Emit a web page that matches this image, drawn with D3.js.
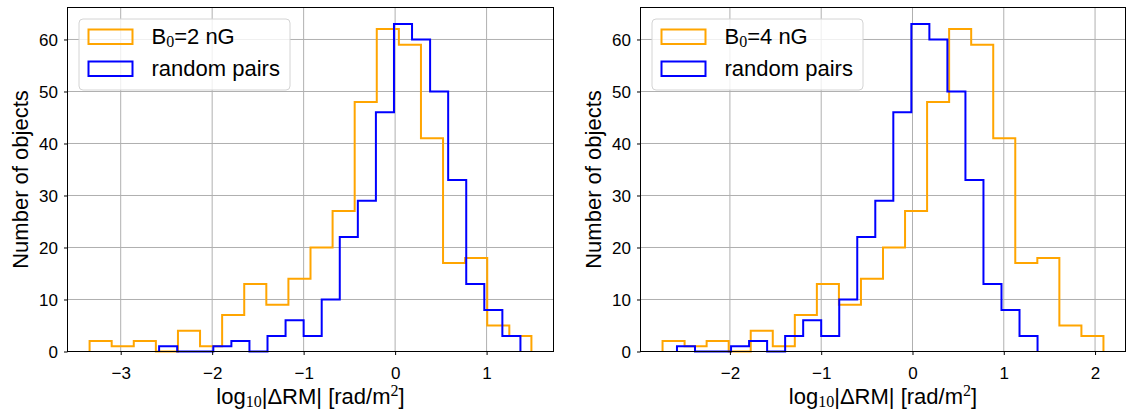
<!DOCTYPE html>
<html>
<head>
<meta charset="utf-8">
<script src="https://cdn.jsdelivr.net/npm/d3@7"></script>
<style>
  html, body { margin: 0; padding: 0; background: #fff; }
  svg { display: block; }
  text { font-family: "Liberation Sans", Arial, Helvetica, sans-serif; fill: #000; }
</style>
</head>
<body>
<svg id="chart" width="1126" height="410"></svg>
<script>
// ---------------- data ----------------
const yTicks = [0, 10, 20, 30, 40, 50, 60];
const xTicksLeft = [-3, -2, -1, 0, 1];
const xTicksRight = [-2, -1, 0, 1, 2];

// histogram counts (20 equal-width bins each)
const orangeCounts = [2, 1, 2, 0, 4, 1, 7, 13, 9, 14, 20, 27, 48, 62, 59, 41, 17, 18, 5, 3];
const blueCounts   = [1, 0, 0, 1, 2, 0, 3, 6, 3, 10, 22, 29, 46, 63, 60, 50, 33, 13, 8, 3];

// bin ranges (log10 |ΔRM|)
const orangeRangeLeft  = [-3.34, 1.49];   // B0 = 2 nG
const orangeRangeRight = [-2.738, 2.092]; // B0 = 4 nG
const blueRange        = [-2.58, 1.37];   // random pairs

const legendLabelsLeft  = { b: "B", sub: "0", rest: "=2 nG" };
const legendLabelsRight = { b: "B", sub: "0", rest: "=4 nG" };
const randomLabel = "random pairs";

const colOrange = "#FFA500";
const colBlue = "#0000FF";

// ---------------- drawing ----------------
const svg = d3.select("#chart");
const yTop = 7.5, yBottom = 351.5;

function edges(range, n) {
  const w = (range[1] - range[0]) / n;
  return d3.range(n + 1).map(i => range[0] + i * w);
}

function drawPanel(cfg) {
  const g = svg.append("g");
  const allLo = Math.min(cfg.orangeRange[0], blueRange[0]);
  const allHi = Math.max(cfg.orangeRange[1], blueRange[1]);
  const m = 0.05 * (allHi - allLo);
  const x = d3.scaleLinear().domain([allLo - m, allHi + m]).range([cfg.left, cfg.right]);
  const ymax = d3.max(orangeCounts.concat(blueCounts)) * 1.05;
  const y = d3.scaleLinear().domain([0, ymax]).range([yBottom, yTop]);

  // grid
  g.append("g").selectAll("line").data(cfg.xTicks).join("line")
    .attr("x1", d => x(d)).attr("x2", d => x(d))
    .attr("y1", yTop).attr("y2", yBottom)
    .attr("stroke", "#b0b0b0").attr("stroke-width", 1);
  g.append("g").selectAll("line").data(yTicks).join("line")
    .attr("x1", cfg.left).attr("x2", cfg.right)
    .attr("y1", d => y(d)).attr("y2", d => y(d))
    .attr("stroke", "#b0b0b0").attr("stroke-width", 1);

  // step histograms
  const line = d3.line().x(d => x(d[0])).y(d => y(d[1]));
  function stepPts(range, counts) {
    const e = edges(range, counts.length);
    const pts = [[e[0], 0]];
    counts.forEach((c, i) => { pts.push([e[i], c]); pts.push([e[i + 1], c]); });
    pts.push([e[e.length - 1], 0]);
    return pts;
  }
  g.append("path").attr("d", line(stepPts(cfg.orangeRange, orangeCounts)))
    .attr("fill", "none").attr("stroke", colOrange).attr("stroke-width", 2)
    .attr("stroke-linejoin", "miter");
  g.append("path").attr("d", line(stepPts(blueRange, blueCounts)))
    .attr("fill", "none").attr("stroke", colBlue).attr("stroke-width", 2)
    .attr("stroke-linejoin", "miter");

  // axes
  const xAxis = d3.axisBottom(x).tickValues(cfg.xTicks).tickSize(3.5).tickSizeOuter(0)
    .tickFormat(d3.format("d"));
  const gx = g.append("g").attr("transform", `translate(0,${yBottom})`).call(xAxis);
  gx.select(".domain").remove();
  gx.selectAll(".tick line").attr("stroke", "#000").attr("stroke-width", 1);
  gx.selectAll(".tick text").attr("y", 27.5).attr("dy", 0)
    .style("font-size", "17px").style("font-family", "'Liberation Sans', Arial, sans-serif");

  const yAxis = d3.axisLeft(y).tickValues(yTicks).tickSize(3.5).tickSizeOuter(0);
  const gy = g.append("g").attr("transform", `translate(${cfg.left},0)`).call(yAxis);
  gy.select(".domain").remove();
  gy.selectAll(".tick line").attr("stroke", "#000").attr("stroke-width", 1);
  gy.selectAll(".tick text").attr("x", -9.5).attr("dy", "0.35em")
    .style("font-size", "17px").style("font-family", "'Liberation Sans', Arial, sans-serif");

  // spines
  g.append("rect").attr("x", cfg.left).attr("y", yTop)
    .attr("width", cfg.right - cfg.left).attr("height", yBottom - yTop)
    .attr("fill", "none").attr("stroke", "#000").attr("stroke-width", 1);

  // y label
  g.append("text")
    .attr("transform", `translate(${cfg.left - 40},${(yTop + yBottom) / 2}) rotate(-90)`)
    .attr("text-anchor", "middle").style("font-size", "22px")
    .text("Number of objects");

  // x label
  const xl = g.append("text")
    .attr("x", (cfg.left + cfg.right) / 2).attr("y", 404)
    .attr("text-anchor", "middle").style("font-size", "22px");
  xl.append("tspan").text("log");
  xl.append("tspan").attr("dy", 3).style("font-family", "'Liberation Serif', 'DejaVu Serif', serif")
    .style("font-size", "16px").text("10");
  xl.append("tspan").attr("dy", -3).text("|ΔRM| [rad/m");
  xl.append("tspan").attr("dy", -8).style("font-family", "'Liberation Serif', 'DejaVu Serif', serif")
    .style("font-size", "16px").text("2");
  xl.append("tspan").attr("dy", 8).text("]");

  // legend
  const lx = cfg.left + 11.5, ly = 19;
  const lg = g.append("g");
  lg.append("rect").attr("x", lx).attr("y", ly).attr("width", 211).attr("height", 71)
    .attr("rx", 4).attr("ry", 4)
    .attr("fill", "#fff").attr("fill-opacity", 0.8)
    .attr("stroke", "#d4d4d4").attr("stroke-width", 1);
  const items = [
    { color: colOrange, label: cfg.legend, yy: ly + 10.5 },
    { color: colBlue, label: null, yy: ly + 42.5 }
  ];
  items.forEach(it => {
    lg.append("rect").attr("x", lx + 9.5).attr("y", it.yy).attr("width", 44).attr("height", 14.5)
      .attr("fill", "none").attr("stroke", it.color).attr("stroke-width", 2);
    const t = lg.append("text").attr("x", lx + 72.5).attr("y", it.yy + 14.5)
      .style("font-size", "22px");
    if (it.label) {
      t.append("tspan").text(it.label.b);
      t.append("tspan").attr("dy", 3).style("font-family", "'Liberation Serif', 'DejaVu Serif', serif")
        .style("font-size", "16px").text(it.label.sub);
      t.append("tspan").attr("dy", -3).text(it.label.rest);
    } else {
      t.text(randomLabel);
    }
  });
}

drawPanel({ left: 67.5, right: 553.5, orangeRange: orangeRangeLeft, xTicks: xTicksLeft, legend: legendLabelsLeft });
drawPanel({ left: 640.5, right: 1125.5, orangeRange: orangeRangeRight, xTicks: xTicksRight, legend: legendLabelsRight });
</script>
</body>
</html>
